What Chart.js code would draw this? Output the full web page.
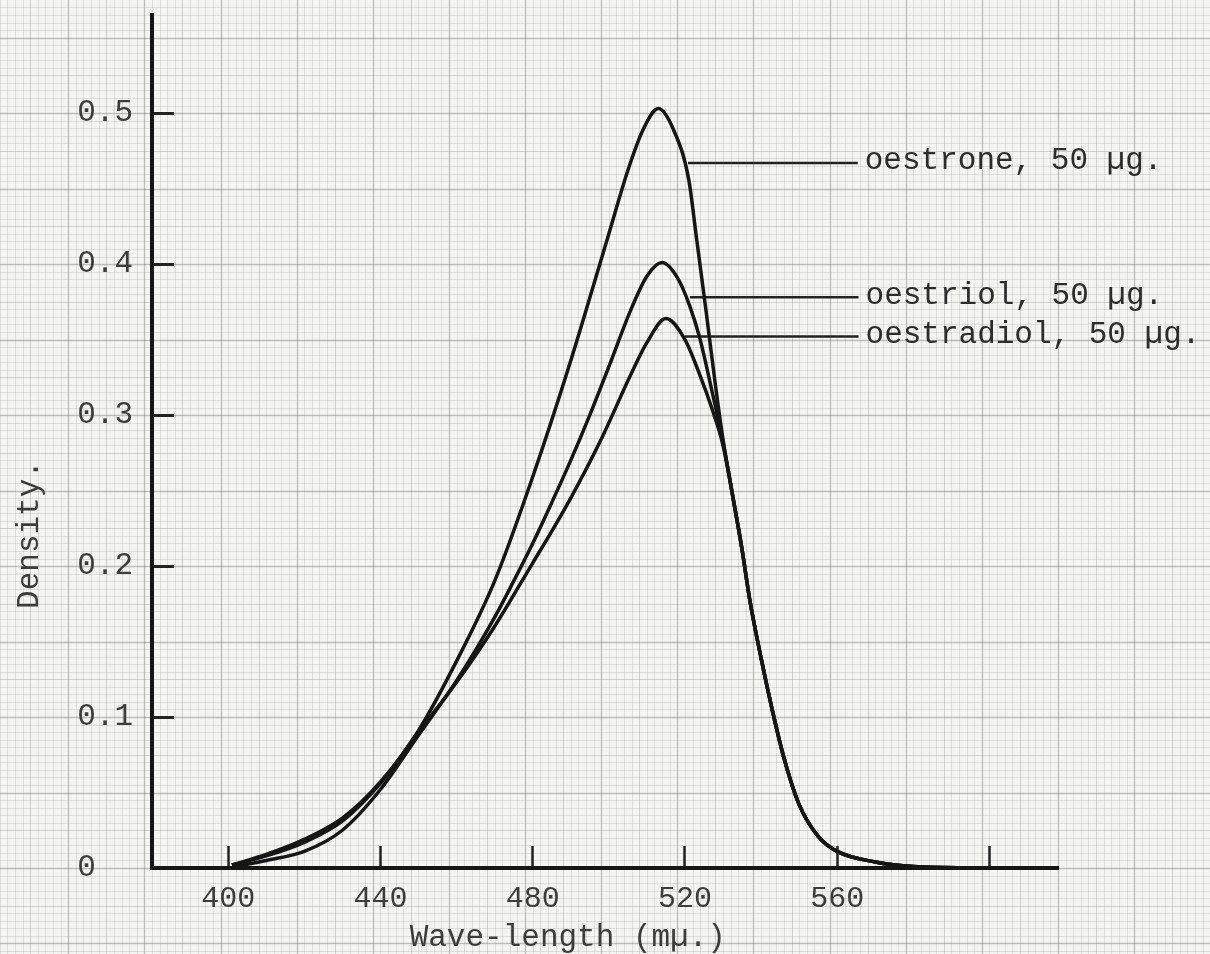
<!DOCTYPE html>
<html>
<head>
<meta charset="utf-8">
<script src="https://cdn.jsdelivr.net/npm/chart.js@4/dist/chart.umd.min.js"></script>
<style>
  html, body { margin: 0; padding: 0; background: #f4f4f2; }
  canvas { display: block; }
</style>
</head>
<body>
<canvas id="c" width="1210" height="954"></canvas>
<script>
// ---- data ----
const wlOestrone = [401, 410, 420, 430, 440, 450, 460, 470, 480, 490, 500, 505, 509, 513, 517, 521, 523, 525.5, 528, 530, 533, 535, 537, 540, 543, 546, 550, 555, 560, 570, 580, 600];
const dOestrone  = [0.002, 0.009, 0.019, 0.033, 0.057, 0.091, 0.137, 0.19, 0.259, 0.336, 0.42, 0.462, 0.489, 0.503, 0.489, 0.456, 0.418, 0.37, 0.32, 0.284, 0.24, 0.211, 0.178, 0.139, 0.104, 0.073, 0.042, 0.021, 0.011, 0.004, 0.001, 0];

const wlOestriol = [402, 410, 420, 430, 440, 450, 460, 470, 475, 480, 485, 490, 495, 500, 506, 510, 514, 518, 521.3, 524, 527, 530, 533, 535, 537, 540, 543, 546, 550, 555, 560, 570, 580, 600];
const dOestriol  = [0.001, 0.005, 0.011, 0.025, 0.052, 0.088, 0.124, 0.166, 0.19, 0.215, 0.242, 0.27, 0.3, 0.332, 0.371, 0.392, 0.401, 0.391, 0.372, 0.35, 0.317, 0.282, 0.24, 0.211, 0.178, 0.139, 0.104, 0.073, 0.042, 0.021, 0.011, 0.004, 0.001, 0];

const wlOestradiol = [401, 410, 420, 430, 440, 450, 460, 470, 480, 485, 490, 498, 506, 510, 515, 520, 524, 527, 530, 533, 535, 537, 540, 543, 546, 550, 555, 560, 570, 580, 600];
const dOestradiol  = [0.002, 0.008, 0.017, 0.031, 0.056, 0.09, 0.123, 0.16, 0.202, 0.223, 0.245, 0.284, 0.328, 0.348, 0.364, 0.35, 0.326, 0.305, 0.28, 0.24, 0.211, 0.178, 0.139, 0.104, 0.073, 0.042, 0.021, 0.011, 0.004, 0.001, 0];

const xTickValues = [400, 440, 480, 520, 560, 600];
const xTickLabels = ['400', '440', '480', '520', '560', ''];
const yTickValues = [0, 0.1, 0.2, 0.3, 0.4, 0.5];
const yTickLabels = ['0  ', '0.1', '0.2', '0.3', '0.4', '0.5'];

const seriesNames  = ['oestrone, 50 µg.', 'oestriol, 50 µg.', 'oestradiol, 50 µg.'];
const leaderStart  = [520.8, 521.3, 520.0];
const leaderEnd    = [565.4, 565.6, 565.6];
const leaderLevel  = [0.467, 0.378, 0.352];

const xTitle = 'Wave-length (mµ.)';
const yTitle = 'Density.';

// ---- styling ----
const FONT = "'Liberation Mono', 'DejaVu Sans Mono', monospace";
const INK = '#161616';
const TEXT = '#3c3c3c';

const toPts = (xs, ys) => xs.map((v, i) => ({ x: v, y: ys[i] }));

const curve = (name, xs, ys) => ({
  label: name,
  data: toPts(xs, ys),
  borderColor: INK,
  borderWidth: 3.5,
  pointRadius: 0,
  fill: false,
  cubicInterpolationMode: 'monotone'
});

const leader = i => ({
  label: 'leader ' + i,
  data: [{ x: leaderStart[i], y: leaderLevel[i] }, { x: leaderEnd[i], y: leaderLevel[i] }],
  borderColor: '#222',
  borderWidth: 2.5,
  pointRadius: 0,
  fill: false
});

// graph paper drawn through the scales
const paper = {
  id: 'paper',
  beforeDraw(chart) {
    const { ctx, width, height } = chart;
    const x = chart.scales.x, y = chart.scales.y;
    ctx.save();
    ctx.fillStyle = '#f4f4f2';
    ctx.fillRect(0, 0, width, height);
    const style = m => {
      ctx.strokeStyle = m === 0 ? 'rgba(115,115,115,0.42)' : (m === 5 ? 'rgba(140,140,140,0.33)' : 'rgba(155,155,155,0.26)');
      ctx.lineWidth = m === 0 ? 1.3 : 1;
    };
    const xa = x.getValueForPixel(0), xb = x.getValueForPixel(width);
    const base = 398;
    for (let k = Math.floor((xa - base) / 2); base + k * 2 <= xb; k++) {
      const px = Math.round(x.getPixelForValue(base + k * 2)) + 0.5;
      style(((k % 10) + 10) % 10);
      ctx.beginPath(); ctx.moveTo(px, 0); ctx.lineTo(px, height); ctx.stroke();
    }
    const ya = y.getValueForPixel(height), yb = y.getValueForPixel(0);
    for (let k = Math.floor(ya / 0.005); k * 0.005 <= yb; k++) {
      const py = Math.round(y.getPixelForValue(k * 0.005)) + 0.5;
      style(((k % 10) + 10) % 10);
      ctx.beginPath(); ctx.moveTo(0, py); ctx.lineTo(width, py); ctx.stroke();
    }
    ctx.restore();
  }
};

const leaderLabels = {
  id: 'leaderLabels',
  afterDatasetsDraw(chart) {
    const { ctx } = chart;
    const x = chart.scales.x, y = chart.scales.y;
    ctx.save();
    ctx.font = '31px ' + FONT;
    ctx.fillStyle = '#2c2c2c';
    ctx.textAlign = 'left';
    ctx.textBaseline = 'middle';
    seriesNames.forEach((t, i) => {
      ctx.fillText(t, x.getPixelForValue(leaderEnd[i]) + 7, y.getPixelForValue(leaderLevel[i]) - 2);
    });
    ctx.restore();
  }
};

new Chart(document.getElementById('c'), {
  type: 'line',
  data: {
    datasets: [
      curve(seriesNames[0], wlOestrone, dOestrone),
      curve(seriesNames[1], wlOestriol, dOestriol),
      curve(seriesNames[2], wlOestradiol, dOestradiol),
      leader(0), leader(1), leader(2)
    ]
  },
  options: {
    responsive: false,
    animation: false,
    layout: { padding: { left: 0, top: 15, right: 152, bottom: 0 } },
    plugins: { legend: { display: false }, tooltip: { enabled: false } },
    scales: {
      x: {
        type: 'linear',
        min: 380,
        max: 618,
        afterBuildTicks: s => { s.ticks = xTickValues.map(v => ({ value: v })); },
        afterFit: s => { s.height = 86; s.paddingLeft = 0; s.paddingRight = 0; },
        border: { color: INK, width: 4 },
        grid: { drawOnChartArea: false, drawTicks: true, tickLength: -22, tickColor: '#222', tickWidth: 2.5 },
        ticks: {
          autoSkip: false, maxRotation: 0,
          callback: v => { const i = xTickValues.indexOf(v); return i >= 0 ? xTickLabels[i] : ''; },
          font: { family: FONT, size: 30 }, color: TEXT, padding: 35
        },
        title: {
          display: true, text: xTitle + '    ',
          font: { family: FONT, size: 31, lineHeight: 1 }, color: TEXT,
          padding: { top: 0, bottom: 0.5 }
        }
      },
      y: {
        type: 'linear',
        min: 0,
        max: 0.565,
        afterBuildTicks: s => { s.ticks = yTickValues.map(v => ({ value: v })); },
        afterFit: s => { s.width = 152; s.paddingTop = 0; s.paddingBottom = 0; },
        border: { color: INK, width: 4 },
        grid: { drawOnChartArea: false, drawTicks: true, tickLength: -22, tickColor: '#222', tickWidth: 3 },
        ticks: {
          autoSkip: false,
          callback: v => { const i = yTickValues.findIndex(t => Math.abs(t - v) < 1e-9); return i >= 0 ? yTickLabels[i] : ''; },
          font: { family: FONT, size: 31 }, color: TEXT, padding: 41
        },
        title: {
          display: true, text: yTitle + '          ',
          font: { family: FONT, size: 31, lineHeight: 1 }, color: TEXT,
          padding: { top: 14.5, bottom: 0 }
        }
      }
    }
  },
  plugins: [paper, leaderLabels]
});
</script>
</body>
</html>
